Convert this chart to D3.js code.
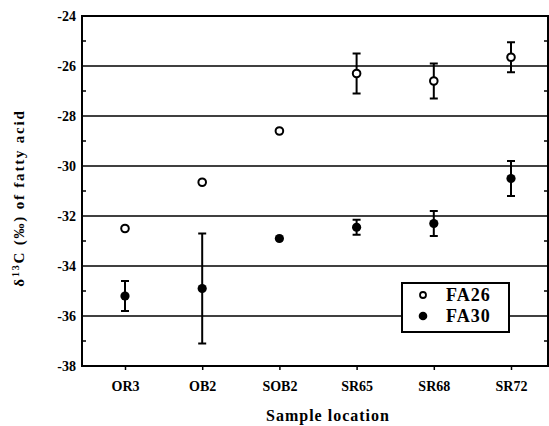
<!DOCTYPE html>
<html><head><meta charset="utf-8">
<script src="https://cdn.jsdelivr.net/npm/d3@7"></script>
<style>
html,body{margin:0;padding:0;background:#fff;}
svg text{font-family:'Liberation Serif','Times New Roman',serif;font-weight:bold;}
</style>
</head><body>
<svg id="chart" width="549" height="426"></svg>
<script>
const categories = ["OR3","OB2","SOB2","SR65","SR68","SR72"];
const fa26 = [-32.5, -30.65, -28.6, -26.3, -26.6, -25.65];
const fa26Err = [0, 0, 0, 0.8, 0.7, 0.6];
const fa30 = [-35.2, -34.9, -32.9, -32.45, -32.3, -30.5];
const fa30Err = [0.6, 2.2, 0, 0.3, 0.5, 0.7];
const yTicks = [-24,-26,-28,-30,-32,-34,-36,-38];
const yMinor = [-25,-27,-29,-31,-33,-35,-37];
const seriesNames = ["FA26","FA30"];

const svg = d3.select("#chart");
const left = 82, right = 548;
const x = d3.scalePoint().domain(categories).range([125, 511]);
const y = d3.scaleLinear().domain([-38, -24]).range([366, 16]);
const font = "'Liberation Serif','Times New Roman',serif";

// gridlines
svg.append("g").selectAll("line").data(yTicks.filter(t => t > -38 && t < -24)).join("line")
  .attr("x1", left).attr("x2", right).attr("y1", d => y(d)).attr("y2", d => y(d))
  .attr("stroke", "#000").attr("stroke-width", 1.6);

// frame
svg.append("rect").attr("x", left).attr("y", y(-24)).attr("width", right - left).attr("height", y(-38) - y(-24))
  .attr("fill", "none").attr("stroke", "#000").attr("stroke-width", 2);

// y axis
const yAxis = svg.append("g").attr("transform", `translate(${left},0)`)
  .call(d3.axisLeft(y).tickValues(yTicks).tickSize(0).tickPadding(6).tickFormat(d => String(d)));
yAxis.attr("font-family", null).attr("font-size", null);
yAxis.select(".domain").remove();
yAxis.selectAll("text").style("font-family", font).style("font-weight", "bold").style("font-size", "14px").attr("fill", "#000");

// minor ticks left & right
svg.append("g").selectAll("line").data(yMinor).join("line")
  .attr("x1", left).attr("x2", left + 4).attr("y1", d => y(d)).attr("y2", d => y(d))
  .attr("stroke", "#000").attr("stroke-width", 1.5);
svg.append("g").selectAll("line").data(yMinor).join("line")
  .attr("x1", right - 4).attr("x2", right).attr("y1", d => y(d)).attr("y2", d => y(d))
  .attr("stroke", "#000").attr("stroke-width", 1.5);

// x axis
const xAxis = svg.append("g").attr("transform", `translate(0,${y(-38)})`)
  .call(d3.axisBottom(x).tickSize(4).tickPadding(11));
xAxis.attr("font-family", null).attr("font-size", null);
xAxis.select(".domain").remove();
xAxis.selectAll("line").attr("stroke", "#000").attr("stroke-width", 1.5);
xAxis.selectAll("text").style("font-family", font).style("font-weight", "bold").style("font-size", "14px").attr("fill", "#000");

// error bars
function errBars(vals, errs) {
  const g = svg.append("g").attr("stroke", "#000").attr("stroke-width", 2);
  const data = categories.map((c, i) => ({c, v: vals[i], e: errs[i]})).filter(d => d.e > 0);
  g.selectAll(".v").data(data).join("line")
    .attr("x1", d => x(d.c)).attr("x2", d => x(d.c))
    .attr("y1", d => y(d.v + d.e)).attr("y2", d => y(d.v - d.e));
  g.selectAll(".t").data(data).join("line")
    .attr("x1", d => x(d.c) - 4).attr("x2", d => x(d.c) + 4)
    .attr("y1", d => y(d.v + d.e)).attr("y2", d => y(d.v + d.e));
  g.selectAll(".b").data(data).join("line")
    .attr("x1", d => x(d.c) - 4).attr("x2", d => x(d.c) + 4)
    .attr("y1", d => y(d.v - d.e)).attr("y2", d => y(d.v - d.e));
}
errBars(fa26, fa26Err);
errBars(fa30, fa30Err);

// points
svg.append("g").selectAll("circle").data(categories).join("circle")
  .attr("cx", d => x(d)).attr("cy", (d, i) => y(fa26[i])).attr("r", 3.8)
  .attr("fill", "#fff").attr("stroke", "#000").attr("stroke-width", 2);
svg.append("g").selectAll("circle").data(categories).join("circle")
  .attr("cx", d => x(d)).attr("cy", (d, i) => y(fa30[i])).attr("r", 4.6)
  .attr("fill", "#000");

// axis titles
svg.append("text").attr("x", 328).attr("y", 421).attr("text-anchor", "middle")
  .style("font-family", font).style("font-size", "16px").attr("letter-spacing", 1)
  .text("Sample location");
const yt = svg.append("text").attr("transform", "translate(24,198) rotate(-90)")
  .style("font-family", font).style("font-size", "15px").attr("letter-spacing", 1.8);
yt.append("tspan").text("δ");
yt.append("tspan").style("font-size", "10px").attr("dy", -5).text("13");
yt.append("tspan").attr("dy", 5).text("C (‰) of fatty acid");
// center the rotated title explicitly
const len = yt.node().getComputedTextLength();
yt.attr("transform", `translate(24,${198 + len / 2}) rotate(-90)`);

// legend
const lg = svg.append("g");
lg.append("rect").attr("x", 402).attr("y", 283).attr("width", 107).attr("height", 49)
  .attr("fill", "#fff").attr("stroke", "#000").attr("stroke-width", 2);
lg.append("circle").attr("cx", 423).attr("cy", 295).attr("r", 3).attr("fill", "#fff").attr("stroke", "#000").attr("stroke-width", 1.8);
lg.append("circle").attr("cx", 423).attr("cy", 316).attr("r", 4.3).attr("fill", "#000");
lg.selectAll("text").data(seriesNames).join("text")
  .attr("x", 446).attr("y", (d, i) => 301 + i * 21)
  .style("font-family", font).style("font-size", "18px").attr("letter-spacing", 1).text(d => d);
</script>
</body></html>
